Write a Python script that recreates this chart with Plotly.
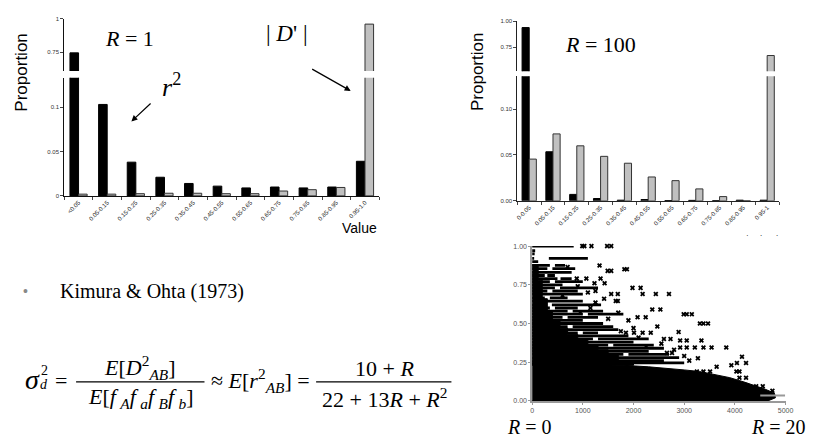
import plotly.graph_objects as go

W, H = 816, 440

# ---------------- data ----------------
cats_r1 = ["&lt;0.05", "0.05-0.15", "0.15-0.25", "0.25-0.35", "0.35-0.45", "0.45-0.55",
           "0.55-0.65", "0.65-0.75", "0.75-0.85", "0.85-0.95", "0.95-1.0"]
r2_r1 = [0.745, 0.103, 0.038, 0.021, 0.014, 0.011, 0.009, 0.010, 0.009, 0.010, 0.039]
dp_r1 = [0.002, 0.002, 0.0025, 0.003, 0.003, 0.0025, 0.0025, 0.0055, 0.007, 0.0095, 0.96]

cats_r100 = ["0-0.05", "0.05-0.15", "0.15-0.25", "0.25-0.35", "0.35-0.45", "0.45-0.55",
             "0.55-0.65", "0.65-0.75", "0.75-0.85", "0.85-0.95", "0.95-1"]
r2_r100 = [0.937, 0.0535, 0.007, 0.0025, 0.0007, 0.0014, 0.0003, 0.0005, 0.0002, 0.0007, 0.0007]
dp_r100 = [0.0455, 0.073, 0.060, 0.0485, 0.041, 0.026, 0.022, 0.013, 0.0046, 0.0, 0.668]

# scatter (distance vs r^2): dense core, near-solid upper-left core, horizontal streaks, isolated points
dense_x = [0, 4650, 4800, 4780, 4600, 4400, 4200, 3900, 3600, 3300, 3000, 2700, 2300, 1800, 0]
dense_y = [0, 0, 0.02, 0.05, 0.075, 0.10, 0.12, 0.15, 0.17, 0.19, 0.20, 0.21, 0.22, 0.23, 0.24]

core_x = [0, 2000, 2000, 1700, 1700, 1500, 1500, 1300, 1300, 1100, 1100, 900, 900, 700, 700,
          550, 550, 400, 400, 300, 300, 200, 200, 120, 120, 0]
core_y = [0.23, 0.23, 0.26, 0.26, 0.30, 0.30, 0.33, 0.33, 0.36, 0.36, 0.40, 0.40, 0.43, 0.43, 0.47,
          0.47, 0.52, 0.52, 0.58, 0.58, 0.66, 0.66, 0.78, 0.78, 0.88, 0.88]

streak_y = [1.00, 0.97, 0.95, 0.92, 0.92, 0.90, 0.875, 0.875, 0.855, 0.855, 0.83, 0.81, 0.81,
            0.79, 0.79, 0.77, 0.77, 0.75, 0.73, 0.73, 0.71, 0.71, 0.69, 0.665, 0.665, 0.645,
            0.62, 0.62, 0.60, 0.60, 0.58, 0.58, 0.56, 0.56, 0.54, 0.54, 0.52, 0.50, 0.48, 0.48,
            0.46, 0.44, 0.44, 0.42, 0.40, 0.40, 0.38, 0.36, 0.36, 0.34, 0.32, 0.30, 0.30,
            0.28, 0.26, 0.245]
streak_x0 = [0, 0, 0, 330, 0, 0, 0, 450, 0, 400, 0, 0, 300,
             0, 560, 0, 450, 0, 0, 550, 0, 400, 0, 0, 350, 0,
             390, 0, 0, 450, 0, 800, 0, 1100, 0, 700, 0, 0, 0, 800,
             0, 0, 1000, 0, 0, 1300, 0, 0, 1600, 0, 0, 0, 1900,
             0, 0, 0]
streak_x1 = [820, 60, 50, 1100, 40, 120, 350, 650, 300, 850, 780, 250, 450,
             500, 780, 350, 1000, 600, 450, 1300, 300, 900, 1000, 250, 700, 1000,
             1360, 150, 350, 900, 700, 1400, 1000, 1800, 600, 1300, 1000, 1400, 700, 1600,
             1700, 900, 1300, 1900, 1200, 2300, 2000, 1500, 2400, 2600, 2300, 1800, 2700,
             2900, 2600, 3000]

pts_x = [990, 1030, 1170, 1480, 1560, 1330, 1490, 1560, 1820, 1870, 880, 1070, 1350,
         1230, 1430, 1980, 2140, 2180, 2440, 2700, 1560, 1690, 1650, 1690, 2370, 2530,
         2990, 3050, 3150, 2080, 2240, 2470, 3310, 3380, 3470, 2890, 1850, 2010, 2180, 2340,
         2600, 2730, 2920, 3050, 3340, 2920, 3050, 3210, 3380, 3540, 3830, 3270, 2660, 2760,
         3640, 3930, 4140, 4040, 4220, 4030, 4090, 3250, 3380, 3510, 4090, 4220, 4420, 4550,
         4740, 1150, 1250, 1420, 1700, 1900, 2000, 2550, 2800, 3100, 3000,
         700, 900, 1100, 600, 1250, 950, 1500, 1750, 2100, 2250]
pts_y = [1.0, 1.0, 1.0, 1.0, 1.0, 0.875, 0.84, 0.84, 0.85, 0.85, 0.79, 0.79, 0.79,
         0.76, 0.76, 0.73, 0.73, 0.69, 0.69, 0.69, 0.69, 0.69, 0.645, 0.645, 0.59, 0.59,
         0.56, 0.56, 0.56, 0.54, 0.54, 0.48, 0.50, 0.50, 0.50, 0.445, 0.44, 0.44, 0.44, 0.44,
         0.40, 0.40, 0.39, 0.39, 0.39, 0.345, 0.345, 0.345, 0.345, 0.345, 0.345, 0.275, 0.31, 0.31,
         0.22, 0.23, 0.285, 0.245, 0.245, 0.19, 0.19, 0.19, 0.19, 0.19, 0.15, 0.15, 0.095, 0.095,
         0.065, 0.60, 0.71, 0.66, 0.57, 0.52, 0.47, 0.37, 0.33, 0.26, 0.29,
         0.865, 0.74, 0.70, 0.68, 0.635, 0.57, 0.53, 0.45, 0.41, 0.35]

gray_x = [4500, 4990]
gray_y = [0.035, 0.035]

# ---------------- figure ----------------
fig = go.Figure()

def px_x(p):
    return p / W

def px_y(p):
    return 1 - p / H

BLACK = "#000000"
GRAY = "#c0c0c0"
tickfont_bar = dict(family="Liberation Sans, Arial", size=6, color="#333333")

for xa, ya in (("x", "y"), ("x2", "y2")):
    fig.add_trace(go.Bar(x=cats_r1, y=r2_r1, marker=dict(color=BLACK, line=dict(color=BLACK, width=1)),
                         xaxis=xa, yaxis=ya, showlegend=False, offsetgroup="a"))
    fig.add_trace(go.Bar(x=cats_r1, y=dp_r1, marker=dict(color=GRAY, line=dict(color="#333333", width=1)),
                         xaxis=xa, yaxis=ya, showlegend=False, offsetgroup="b"))
for xa, ya in (("x3", "y3"), ("x4", "y4")):
    fig.add_trace(go.Bar(x=cats_r100, y=r2_r100, marker=dict(color=BLACK, line=dict(color=BLACK, width=1)),
                         xaxis=xa, yaxis=ya, showlegend=False, offsetgroup="a"))
    fig.add_trace(go.Bar(x=cats_r100, y=dp_r100, marker=dict(color=GRAY, line=dict(color="#333333", width=1)),
                         xaxis=xa, yaxis=ya, showlegend=False, offsetgroup="b"))

# scatter
for px_, py_ in ((dense_x, dense_y), (core_x, core_y)):
    fig.add_trace(go.Scatter(x=px_, y=py_, fill="toself", fillcolor=BLACK, mode="lines",
                             line=dict(color=BLACK, width=1), xaxis="x5", yaxis="y5", showlegend=False,
                             hoverinfo="skip"))
sx, sy = [], []
for yv, a, b in zip(streak_y, streak_x0, streak_x1):
    sx += [a, b, None]
    sy += [yv, yv, None]
fig.add_trace(go.Scatter(x=sx, y=sy, mode="lines", line=dict(color=BLACK, width=2.8),
                         xaxis="x5", yaxis="y5", showlegend=False, cliponaxis=False, hoverinfo="skip"))
fig.add_trace(go.Scatter(x=gray_x, y=gray_y, mode="lines", line=dict(color="#999999", width=2),
                         xaxis="x5", yaxis="y5", showlegend=False, hoverinfo="skip"))
fig.add_trace(go.Scatter(x=pts_x, y=pts_y, mode="markers",
                         marker=dict(symbol="x", size=4.5, color=BLACK, line=dict(width=0)),
                         xaxis="x5", yaxis="y5", showlegend=False, cliponaxis=False))

cat_axis = dict(type="category", range=[-0.5, 10.5], ticks="outside", ticklen=3, tickson="boundaries",
                tickangle=-45, tickfont=dict(family="Liberation Sans, Arial", size=6, color="#222222"),
                showgrid=False, zeroline=False, showline=True, linewidth=1)

fig.update_layout(
    width=W, height=H, margin=dict(l=0, r=0, t=0, b=0),
    paper_bgcolor="white", plot_bgcolor="white",
    barmode="group", bargap=0.4, bargroupgap=0.0, showlegend=False,
    xaxis=dict(cat_axis, domain=[px_x(63), px_x(382)], anchor="y", linecolor="#111111"),
    yaxis=dict(domain=[px_y(195), px_y(75)], anchor="x", range=[0, 0.133],
               tickvals=[0, 0.05, 0.1], ticktext=["0", "0.05", "0.1"], tickfont=tickfont_bar,
               ticks="outside", ticklen=3, showline=True, linecolor="#111111", showgrid=False, zeroline=False),
    xaxis2=dict(type="category", range=[-0.5, 10.5], domain=[px_x(63), px_x(382)], anchor="y2", visible=False),
    yaxis2=dict(domain=[px_y(68), px_y(15)], anchor="x2", range=[0.61, 1.0],
                tickvals=[0.75, 1.0], ticktext=["0.75", "1"], tickfont=tickfont_bar,
                ticks="outside", ticklen=3, showline=True, linecolor="#111111", showgrid=False, zeroline=False),
    xaxis3=dict(cat_axis, domain=[px_x(521.7), px_x(786.7)], anchor="y3", linecolor="#222222"),
    yaxis3=dict(domain=[px_y(200), px_y(73.3)], anchor="x3", range=[0, 0.136],
                tickvals=[0, 0.05, 0.10], ticktext=["0.00", "0.05", "0.10"], tickfont=tickfont_bar,
                ticks="outside", ticklen=3, showline=True, linecolor="#222222", showgrid=False, zeroline=False),
    xaxis4=dict(type="category", range=[-0.5, 10.5], domain=[px_x(521.7), px_x(786.7)], anchor="y4", visible=False),
    yaxis4=dict(domain=[px_y(68.3), px_y(17.3)], anchor="x4", range=[0.517, 1.0],
                tickvals=[0.75, 1.0], ticktext=["0.75", "1.00"], tickfont=tickfont_bar,
                ticks="outside", ticklen=3, showline=True, linecolor="#222222", showgrid=False, zeroline=False),
    xaxis5=dict(domain=[px_x(536.7), px_x(793.3)], anchor="y5", range=[0, 5000],
                tickvals=[0, 1000, 2000, 3000, 4000, 5000],
                tickfont=dict(family="Liberation Sans, Arial", size=7, color="#555555"),
                ticks="outside", ticklen=2, tickcolor="#999999",
                showline=True, linecolor="#999999", linewidth=1.5, showgrid=False, zeroline=False),
    yaxis5=dict(domain=[px_y(403.3), px_y(246)], anchor="x5", range=[0, 1.0],
                tickvals=[0, 0.25, 0.5, 0.75, 1.0], ticktext=["0.00", "0.25", "0.50", "0.75", "1.00"],
                tickfont=dict(family="Liberation Sans, Arial", size=7, color="#555555"),
                ticks="outside", ticklen=2, tickcolor="#999999",
                showline=True, linecolor="#999999", linewidth=1.5, showgrid=False, zeroline=False),
)

SERIF = "Liberation Serif, Times New Roman, serif"
SANS = "Liberation Sans, Arial, sans-serif"
ann = []

def txt(text, x, y, size, family=SERIF, color="black", xanchor="center", yanchor="middle", angle=0):
    ann.append(dict(text=text, x=px_x(x), y=px_y(y), xref="paper", yref="paper", showarrow=False,
                    font=dict(family=family, size=size, color=color), xanchor=xanchor, yanchor=yanchor,
                    textangle=angle))

txt("Proportion", 20, 70, 17, family=SANS, angle=-90)
txt("Proportion", 482, 69, 17, family=SANS, angle=-90)
txt("<i>R</i> = 1", 129, 35, 22)
txt("<i>R</i> = 100", 606, 41, 22)
txt("| <i>D</i>' |", 288, 30, 23)
txt("<i>r</i><sup>2</sup>", 172, 83, 26)
txt("Value", 362, 228, 14, family=SANS)
txt("·     ·      ·", 769, 235, 8, family=SANS)

ann.append(dict(x=px_x(131), y=px_y(119.3), xref="paper", yref="paper", text="", showarrow=True,
                ax=20.7, ay=-19.3, arrowhead=2, arrowsize=1, arrowwidth=1.2, arrowcolor="black"))
ann.append(dict(x=px_x(353), y=px_y(88.3), xref="paper", yref="paper", text="", showarrow=True,
                ax=-40, ay=-22.6, arrowhead=2, arrowsize=1, arrowwidth=1.2, arrowcolor="black"))

txt("<i>R</i> = 0", 534, 430, 20)
txt("<i>R</i> = 20", 786, 430, 20)

txt("•", 24, 292, 14, family=SANS, color="#888888")
txt("Kimura &amp; Ohta (1973)", 57, 292, 20, xanchor="left")

TS = "\u2009"
txt("<i>σ</i>", 31, 382, 28)
txt("2", 43, 372, 14)
txt("<i>d</i>", 43, 387, 14)
txt("=", 60, 383, 22)
txt("<i>E</i>[<i>D</i><sup>2</sup><sub><i>AB</i></sub>]", 140, 369, 22)
txt("<i>E</i>[<i>f</i>" + TS + "<sub><i>A</i></sub><i>f</i>" + TS + "<sub><i>a</i></sub><i>f</i>" + TS
    + "<sub><i>B</i></sub><i>f</i>" + TS + "<sub><i>b</i></sub>]", 140, 400, 22)
txt("≈ <i>E</i>[<i>r</i><sup>2</sup><sub><i>AB</i></sub>] =", 262, 383, 22)
txt("10 + <i>R</i>", 387, 370, 22)
txt("22 + 13<i>R</i> + <i>R</i><sup>2</sup>", 387, 400, 22)

fig.update_layout(annotations=ann, shapes=[
    dict(type="line", xref="paper", yref="paper", x0=px_x(75), x1=px_x(205), y0=px_y(384), y1=px_y(384),
         line=dict(color="black", width=1.3)),
    dict(type="line", xref="paper", yref="paper", x0=px_x(318), x1=px_x(455), y0=px_y(384), y1=px_y(384),
         line=dict(color="black", width=1.3)),
])

fig.write_html("out.html")
